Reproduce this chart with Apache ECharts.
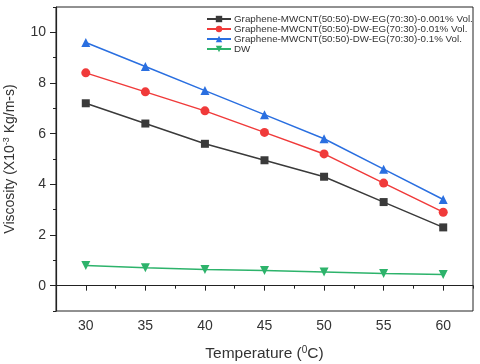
<!DOCTYPE html>
<html><head><meta charset="utf-8">
<script src="https://cdn.jsdelivr.net/npm/echarts@6/dist/echarts.min.js"></script>
<style>html,body{margin:0;padding:0;background:#fff}#c{width:480px;height:364px}</style>
</head><body><div id="c"></div>
<script>
var temps = [30, 35, 40, 45, 50, 55, 60];
var names = [
  'Graphene-MWCNT(50:50)-DW-EG(70:30)-0.001% Vol.',
  'Graphene-MWCNT(50:50)-DW-EG(70:30)-0.01% Vol.',
  'Graphene-MWCNT(50:50)-DW-EG(70:30)-0.1% Vol.',
  'DW'
];
var v0001 = [7.2, 6.4, 5.6, 4.95, 4.3, 3.3, 2.3];
var v001 = [8.4, 7.65, 6.9, 6.05, 5.2, 4.05, 2.9];
var v01 = [9.6, 8.65, 7.7, 6.75, 5.8, 4.6, 3.4];
var vDW = [0.8, 0.71, 0.64, 0.6, 0.54, 0.48, 0.44];
var xTicks = [30, 35, 40, 45, 50, 55, 60];
var yTicks = [0, 2, 4, 6, 8, 10];

var FONT = 'Liberation Sans';
var colors = ['#3a3a3a', '#f03a3a', '#2a6fe0', '#2db36b'];
function pairs(v){ return temps.map(function(t,i){ return [t, v[i]]; }); }
var symbols = ['rect', 'circle', 'triangle', 'triangle'];
var sizes = [8, 9, 9, 9];
var datas = [v0001, v001, v01, vDW];
var series = datas.map(function(d, i){
  return {
    name: names[i], type: 'line', xAxisIndex: 0, yAxisIndex: 0,
    data: pairs(d), symbol: symbols[i], symbolSize: sizes[i],
    symbolRotate: i === 3 ? 180 : 0,
    lineStyle: {color: colors[i], width: 1.5},
    itemStyle: {color: colors[i]},
    animation: false
  };
});
var chart = echarts.init(document.getElementById('c'), null, {renderer: 'canvas'});
chart.setOption({
  animation: false,
  textStyle: {fontFamily: FONT},
  grid: {left: 56, right: 7, top: 7, bottom: 53, show: true, borderColor: '#222', borderWidth: 1, outerBoundsMode: 'none', containLabel: false},
  legend: {
    orient: 'vertical', left: 201, top: 9, itemWidth: 24, itemHeight: 8, itemGap: 0,
    textStyle: {fontSize: 9.8, color: '#333', fontFamily: FONT, padding: [0,0,0,-2]},
    data: names.map(function(n, i){ return {name: n}; })
  },
  xAxis: [{
    type: 'value', min: 27.5, max: 62.5, position: 'bottom',
    axisLine: {lineStyle: {color: '#222', width: 1.2}},
    axisTick: {customValues: xTicks, length: 5, lineStyle: {color: '#222'}},
    axisLabel: {customValues: xTicks, fontSize: 14, color: '#333', margin: 8},
    splitLine: {show: false},
    name: '{a|Temperature (}{s|0}{a|C)}', nameLocation: 'middle', nameGap: 34,
    nameTextStyle: {rich: {a: {fontSize: 15.5, color: '#333', fontFamily: FONT, lineHeight: 18}, s: {fontSize: 10, color: '#333', fontFamily: FONT, verticalAlign: 'top', lineHeight: 18, padding: [0,0,7,0]}}}
  }, {
    type: 'value', min: 27.5, max: 62.5, interval: 2.5, position: 'bottom',
    axisLine: {show: false}, axisLabel: {show: false}, splitLine: {show: false},
    axisTick: {length: 3, lineStyle: {color: '#222'}}
  }],
  yAxis: [{
    type: 'value', min: -1, max: 11, position: 'left',
    axisLine: {show: true, lineStyle: {color: '#222', width: 1.2}},
    axisTick: {show: true, customValues: yTicks, length: 6, lineStyle: {color: '#222'}},
    axisLabel: {customValues: yTicks, fontSize: 14, color: '#333', margin: 10},
    splitLine: {show: false},
    name: '{a|Viscosity (X10}{s|-3}{a| Kg/m-s)}', nameLocation: 'middle', nameGap: 38, nameRotate: 90,
    nameTextStyle: {rich: {a: {fontSize: 14, color: '#333', fontFamily: FONT, lineHeight: 16}, s: {fontSize: 9, color: '#333', fontFamily: FONT, verticalAlign: 'top', lineHeight: 16, padding: [0,0,6,0]}}}
  }, {
    type: 'value', min: -1, max: 11, interval: 1, position: 'left',
    axisLine: {show: false}, axisLabel: {show: false}, splitLine: {show: false},
    axisTick: {show: true, length: 3, lineStyle: {color: '#222'}}
  }],
  series: series
});
</script></body></html>
